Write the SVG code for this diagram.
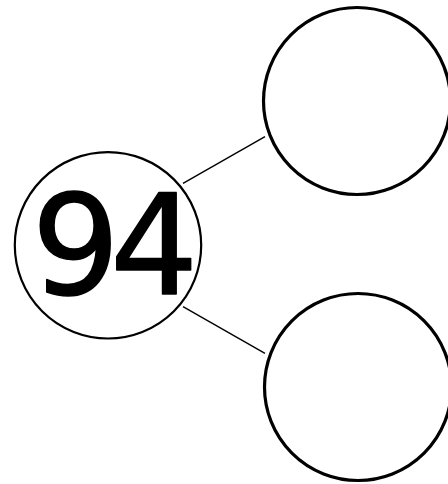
<svg xmlns="http://www.w3.org/2000/svg" width="448" height="484" viewBox="0 0 448 484">
<style>
.node{fill:#fff;stroke:#000}
.big{stroke-width:3.2}
.small{stroke-width:2.2}
.conn{stroke:#000;stroke-width:1.4;fill:none}
.num{font-family:"DejaVu Sans",sans-serif;font-size:139px;fill:#000;stroke:#000;stroke-width:1.5;stroke-linejoin:round}
</style>
<rect width="448" height="484" fill="#fff"/>
<g id="connectors">
<line class="conn" x1="183" y1="183.3" x2="265" y2="136.7"/>
<line class="conn" x1="183" y1="306.7" x2="265" y2="353.3"/>
</g>
<g id="root">
<circle class="node small" cx="108" cy="245.3" r="93.2"/>
<text class="num" x="110" y="294" text-anchor="middle" letter-spacing="-10">94</text>
</g>
<g id="top">
<circle class="node big" cx="357" cy="101" r="93.5"/>
</g>
<g id="bottom">
<circle class="node big" cx="358" cy="387" r="93.5"/>
</g>
</svg>
